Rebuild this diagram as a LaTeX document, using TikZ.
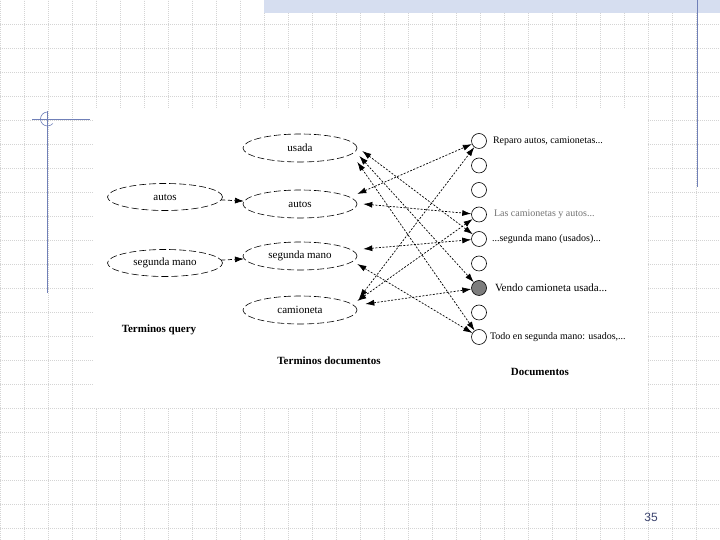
\documentclass[tikz,border=0pt]{standalone}
\usepackage{fontspec}
\setmainfont{Liberation Serif}
\newfontfamily\numfont{Liberation Sans}
\usetikzlibrary{arrows.meta,shapes.geometric,positioning}
\definecolor{slideblue}{RGB}{112,128,184}
\definecolor{bandblue}{RGB}{214,222,240}
\definecolor{gridgray}{RGB}{212,212,212}
\definecolor{docgray}{RGB}{125,125,125}
\definecolor{numblue}{RGB}{60,68,110}
\tikzstyle{qterm} = [ellipse, draw, dash pattern=on 7pt off 3pt, line width=0.6pt,
    minimum width=115pt, minimum height=27pt, inner sep=0pt, font=\fontsize{11}{13}\selectfont]
\tikzstyle{dterm} = [qterm, minimum width=114pt, minimum height=28pt]
\tikzstyle{doc} = [circle, draw, line width=0.6pt, minimum size=15pt, inner sep=0pt]
\tikzstyle{doclabel} = [inner sep=0pt, font=\fontsize{10}{12}\selectfont]
\tikzstyle{heading} = [font=\bfseries\fontsize{11}{13}\selectfont]
\tikzstyle{line} = [draw, dash pattern=on 4pt off 2.5pt, line width=0.7pt, -{Latex[length=9pt,width=6pt]}]
\tikzstyle{link} = [draw, dash pattern=on 2pt off 1.5pt, line width=0.7pt,
    {Latex[length=9pt,width=6pt]}-{Latex[length=9pt,width=6pt]}]
\tikzstyle{gridline} = [gridgray, dash pattern=on 0.8pt off 1.2pt, line width=0.5pt]

\begin{document}
\begin{tikzpicture}[x=1pt, y=1pt, node distance=54pt]
    \useasboundingbox (0,0) rectangle (720,540);
    % Slide background
    \foreach \gx in {0,24,...,720}
        \draw [gridline] (\gx,0) -- (\gx,540);
    \foreach \gy in {12,36,...,516}
        \draw [gridline] (0,\gy) -- (720,\gy);
    \fill [bandblue] (264,527) rectangle (720,540);
    \draw [slideblue, line width=0.8pt] (697,540) -- (697,353);
    \draw [slideblue, line width=0.8pt] (32,421) -- (90,421);
    \draw [slideblue, line width=0.8pt] (47.5,429) -- (47.5,247);
    \draw [slideblue, line width=0.6pt] (47.5,428) arc (90:320:7);
    \fill [white] (93,132) rectangle (648,432);

    % Place nodes
    \node [dterm] (usada) at (300,392) {usada};
    \node [dterm, below of=usada, yshift=-2pt] (tautos) {autos};
    \node [dterm, below of=tautos, yshift=2pt] (tsegunda) {segunda mano};
    \node [dterm, below of=tsegunda] (camioneta) {camioneta};
    \node [qterm, node distance=135pt, left of=tautos, yshift=7pt] (qautos) {autos};
    \node [qterm, node distance=135pt, left of=tsegunda, yshift=-7pt] (qsegunda) {segunda mano};

    \node [doc] (d1) at (479,399) {};
    \foreach \i/\c in {2/white,3/white,4/white,5/white,6/white,7/docgray,8/white,9/white} {
        \pgfmathtruncatemacro\j{\i-1}
        \node [doc, fill=\c, node distance=24.5pt, below of=d\j] (d\i) {};
    }
    \node [doclabel, right=6pt of d1] (l1) {Reparo autos, camionetas...};
    \node [doclabel, right=7pt of d4, text=black!55] (l4) {Las camionetas y autos...};
    \node [doclabel, right=5pt of d5] (l5) {...segunda mano (usados)...};
    \node [doclabel, right=8pt of d7, font=\fontsize{11}{13}\selectfont] (l7) {Vendo camioneta usada...};
    \node [doclabel, right=3pt of d9] (l9) {Todo en segunda mano: usados,...};

    \node [heading] (qhead) at (159,210) {Terminos query};
    \node [heading] (thead) at (329,179) {Terminos documentos};
    \node [heading] (dhead) at (540,168) {Documentos};
    \node [font=\numfont\fontsize{12}{14}\selectfont, text=numblue] (page) at (651,23) {35};

    % Draw edges
    \path [line] (qautos) -- (tautos);
    \path [line] (qsegunda) -- (tsegunda);
    \path [link] ([yshift=10pt]tautos.east) -- (d1);
    \path [link] ([xshift=6pt]tautos.east) -- (d4);
    \path [link] ([xshift=2pt,yshift=12pt]camioneta.east) -- (d1);
    \path [link] ([yshift=9pt]camioneta.east) -- (d4);
    \path [link] ([xshift=8pt,yshift=6pt]camioneta.east) -- (d7);
    \path [link] ([xshift=6pt,yshift=7pt]tsegunda.east) -- (d5);
    \path [link] ([yshift=-8pt]tsegunda.east) -- (d9);
    \path [link] ([xshift=5pt,yshift=-3pt]usada.east) -- (d5);
    \path [link] ([xshift=2pt,yshift=-8pt]usada.east) -- (d7);
    \path [link] ([yshift=-14pt]usada.east) -- (d9);

\end{tikzpicture}
\end{document}
